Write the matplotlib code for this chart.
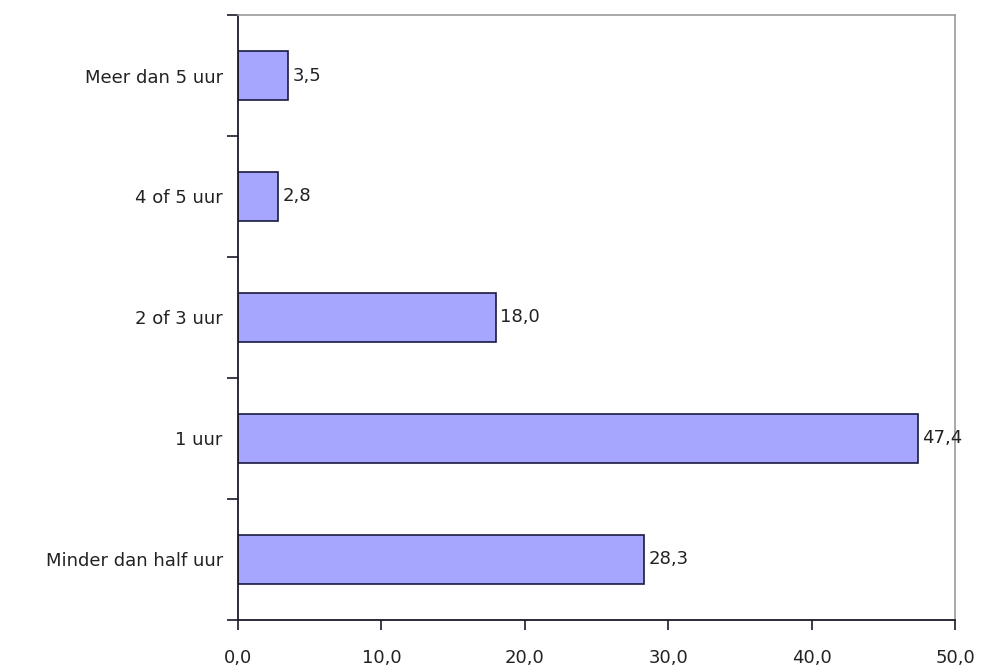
import numpy as np
import matplotlib.pyplot as plt
from matplotlib.ticker import FixedLocator

plt.rcParams['font.family'] = ['DejaVu Sans']

categories = ['Minder dan half uur', '1 uur', '2 of 3 uur', '4 of 5 uur', 'Meer dan 5 uur']
values = [28.3, 47.4, 18.0, 2.8, 3.5]
xticks = [0, 10, 20, 30, 40, 50]

fig = plt.figure(figsize=(9.82, 6.67), dpi=100)
ax = fig.add_axes([0.2424, 0.0705, 0.7301, 0.907])

y = np.arange(len(categories))
ax.barh(y, values, height=0.4, color='#a6a6ff', edgecolor='#1a1a40', linewidth=1.2)

for yi, v in zip(y, values):
    ax.text(v + 0.3, yi, f'{v:.1f}'.replace('.', ','), va='center', ha='left',
            fontsize=13, color='#222222')

ax.set_xlim(0, 50)
ax.set_ylim(-0.5, len(categories) - 0.5)
ax.set_xticks(xticks)
ax.set_xticklabels([f'{t:.1f}'.replace('.', ',') for t in xticks], fontsize=13, color='#222222')
ax.set_yticks(y)
ax.set_yticklabels(categories, fontsize=13, color='#222222')
ax.tick_params(axis='y', which='major', length=0, pad=11)
ax.yaxis.set_minor_locator(FixedLocator(np.arange(-0.5, len(categories), 1.0)))
ax.tick_params(axis='y', which='minor', length=8, width=1.2, color='#1a1a2a')
ax.tick_params(axis='x', which='major', length=7, width=1.2, color='#1a1a2a', pad=14)

ax.spines['left'].set_color('#1a1a2a')
ax.spines['bottom'].set_color('#1a1a2a')
ax.spines['left'].set_linewidth(1.3)
ax.spines['bottom'].set_linewidth(1.3)
ax.spines['top'].set_color('#999999')
ax.spines['right'].set_color('#999999')
ax.spines['top'].set_linewidth(1.2)
ax.spines['right'].set_linewidth(1.2)

fig.savefig('out.png', dpi=100)
